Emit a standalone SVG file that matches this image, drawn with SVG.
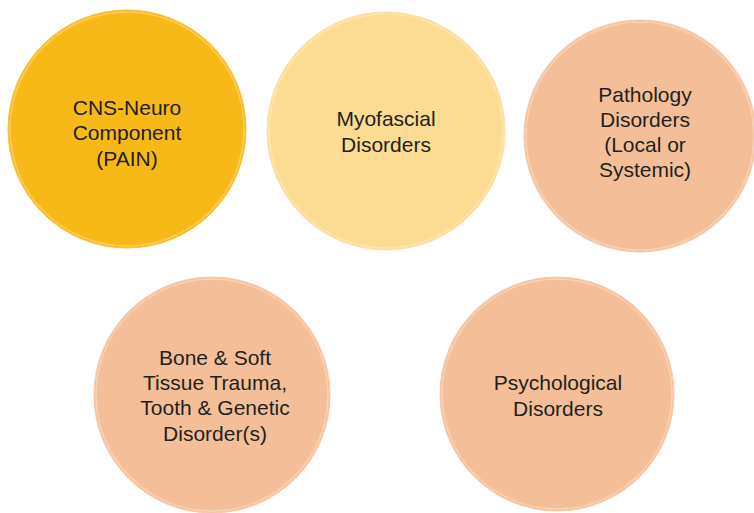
<svg xmlns="http://www.w3.org/2000/svg" width="754" height="513" viewBox="0 0 754 513">
  <style>
    .disc { stroke-width: 1; }
    .rim { fill: none; stroke: #ffffff; stroke-opacity: 0.3; stroke-width: 1.5; }
    .label { font-family: "Liberation Sans", Arial, sans-serif; font-size: 21px; fill: #231f20; text-anchor: middle; }
    .gold { fill: #f7b917; stroke: #f8c23a; }
    .sand { fill: #fcdb92; stroke: #fde2a4; }
    .peach { fill: #f4bf98; stroke: #f6c9a8; }
  </style>
  <rect width="754" height="513" fill="#ffffff"/>

  <g id="cns-neuro">
    <circle class="disc gold" cx="127" cy="129" r="119"/>
    <circle class="rim" cx="127" cy="129" r="117"/>
    <text class="label" x="127" y="115">CNS-Neuro</text>
    <text class="label" x="127" y="140">Component</text>
    <text class="label" x="127" y="166">(PAIN)</text>
  </g>

  <g id="myofascial">
    <circle class="disc sand" cx="386" cy="131" r="119"/>
    <circle class="rim" cx="386" cy="131" r="117"/>
    <text class="label" x="386" y="126">Myofascial</text>
    <text class="label" x="386" y="152">Disorders</text>
  </g>

  <g id="pathology">
    <circle class="disc peach" cx="640" cy="136" r="116"/>
    <circle class="rim" cx="640" cy="136" r="114"/>
    <text class="label" x="645" y="102">Pathology</text>
    <text class="label" x="645" y="127">Disorders</text>
    <text class="label" x="645" y="152">(Local or</text>
    <text class="label" x="645" y="177">Systemic)</text>
  </g>

  <g id="trauma">
    <circle class="disc peach" cx="212" cy="395" r="118"/>
    <circle class="rim" cx="212" cy="395" r="116"/>
    <text class="label" x="215" y="365">Bone &amp; Soft</text>
    <text class="label" x="215" y="390">Tissue Trauma,</text>
    <text class="label" x="215" y="415">Tooth &amp; Genetic</text>
    <text class="label" x="215" y="441">Disorder(s)</text>
  </g>

  <g id="psychological">
    <circle class="disc peach" cx="557" cy="394" r="117"/>
    <circle class="rim" cx="557" cy="394" r="115"/>
    <text class="label" x="558" y="390">Psychological</text>
    <text class="label" x="558" y="416">Disorders</text>
  </g>

  <g id="connectors"/>
</svg>
